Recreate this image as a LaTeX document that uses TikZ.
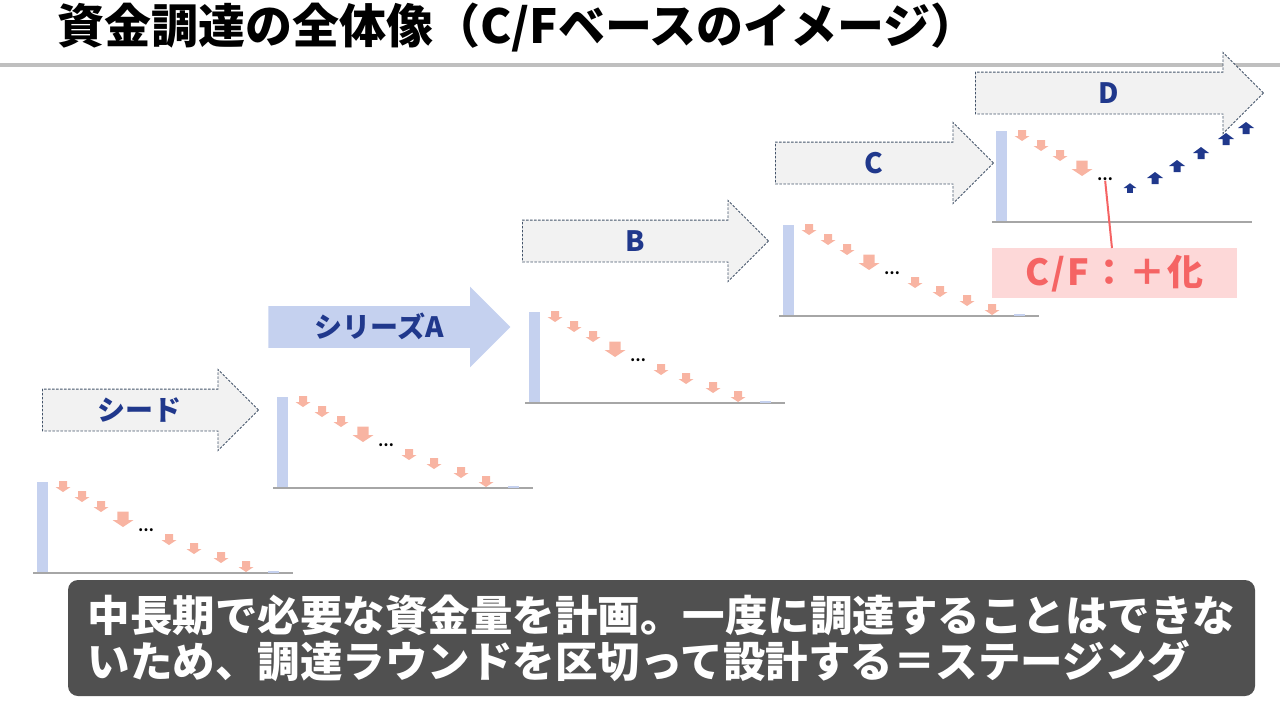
\documentclass[tikz,border=0pt]{standalone}
\usepackage{fontspec}
\setmainfont{Noto Sans CJK JP}
\usetikzlibrary{positioning,shapes.arrows}

\definecolor{navy}{RGB}{32,56,140}
\definecolor{salmon}{RGB}{248,180,162}
\definecolor{barblue}{RGB}{197,209,239}
\definecolor{edgeblue}{RGB}{68,84,106}
\definecolor{cfred}{RGB}{245,100,100}
\definecolor{cfpink}{RGB}{253,216,216}
\definecolor{notegray}{RGB}{80,80,80}

\tikzset{
  round/.style={single arrow, single arrow head extend=19.5pt, minimum width=80pt,
    inner xsep=0pt, inner ysep=7.5pt, text height=23pt, text depth=3pt, anchor=tail,
    fill=gray!10, draw=edgeblue, line width=0.9pt, dash pattern=on 2.5pt off 1.5pt,
    text=navy, font=\bfseries\fontsize{28}{30}\selectfont},
  dn/.pic={\fill[salmon] (-4,-6) -- (4,-6) -- (4,0) -- (7.5,0) -- (0,5) -- (-7.5,0) -- (-4,0) -- cycle;},
  up/.pic={\fill[navy] (-3.5,6) -- (3.5,6) -- (3.5,0) -- (8,0) -- (0,-6) -- (-8,0) -- (-3.5,0) -- cycle;},
  fallhead/.pic={
    \fill[barblue] (0,0) rectangle (11,-91);
    \draw[gray!70, line width=1.5pt] (-4,0) -- (256,0);
    \path (26,-86) pic{dn} (45,-76) pic{dn} (64,-66) pic{dn} (86,-53) pic[scale=1.4]{dn};
    \node[font=\bfseries\fontsize{14}{14}\selectfont, inner sep=0pt] (-dots) at (109,-43) {…};
  },
  falltail/.pic={
    \path (132,-33) pic{dn} (157,-24) pic{dn} (184,-15) pic{dn} (209,-6) pic{dn};
    \fill[barblue] (231,-2) rectangle (242,0);
  },
}

\begin{document}
\begin{tikzpicture}[x=1pt,y=-1pt]
    \useasboundingbox (0,0) rectangle (1280,720);
    % title
    \node[anchor=west, inner sep=0pt, font=\bfseries\fontsize{47}{50}\selectfont] (title) at (57,28)
        {資金調達の全体像（C/Fベースのイメージ）};
    \draw[gray!50, line width=4pt] (0,65) -- (1280,65);
    % create the rounds
    \node[round, minimum height=216pt] (seed) at (42,410) {シード};
    \node[round, minimum height=242pt, fill=barblue, draw=none] (seriesA) at (268,327) {シリーズA};
    \node[round, minimum height=246pt] (seriesB) at (522,241) {B};
    \node[round, minimum height=218pt] (seriesC) at (775,163) {C};
    \node[round, minimum height=288pt] (seriesD) at (975,93) {D};
    % cash flow under each round
    \pic (cfseed) at (37,573) {fallhead};
    \pic at (37,573) {falltail};
    \pic (cfA) at (277,488) {fallhead};
    \pic at (277,488) {falltail};
    \pic (cfB) at (529,403) {fallhead};
    \pic at (529,403) {falltail};
    \pic (cfC) at (783,316) {fallhead};
    \pic at (783,316) {falltail};
    \pic (cfD) at (996,222) {fallhead};
    \path (1130,188) pic[scale=0.8]{up} (1155,178) pic{up} (1177,166) pic{up}
          (1201,153) pic{up} (1226,139) pic{up} (1246,128) pic{up};
    % turning point
    \node[fill=cfpink, minimum width=245pt, minimum height=50pt, anchor=north, text=cfred,
          font=\bfseries\fontsize{36}{38}\selectfont\addfontfeature{LetterSpace=6}] (plus) at (1114.5,248) {C/F：＋化};
    \draw[cfred, line width=2pt] (cfD-dots) -- (plus);
    % note
    \node[fill=notegray, rounded corners=10pt, minimum width=1187pt, minimum height=116pt,
          text=white, align=left, font=\bfseries\fontsize{42.5}{46}\selectfont] (summary) at (661.5,638)
        {中長期で必要な資金量を計画。一度に調達することはできな\\いため、調達ラウンドを区切って設計する＝ステージング};
\end{tikzpicture}
\end{document}
